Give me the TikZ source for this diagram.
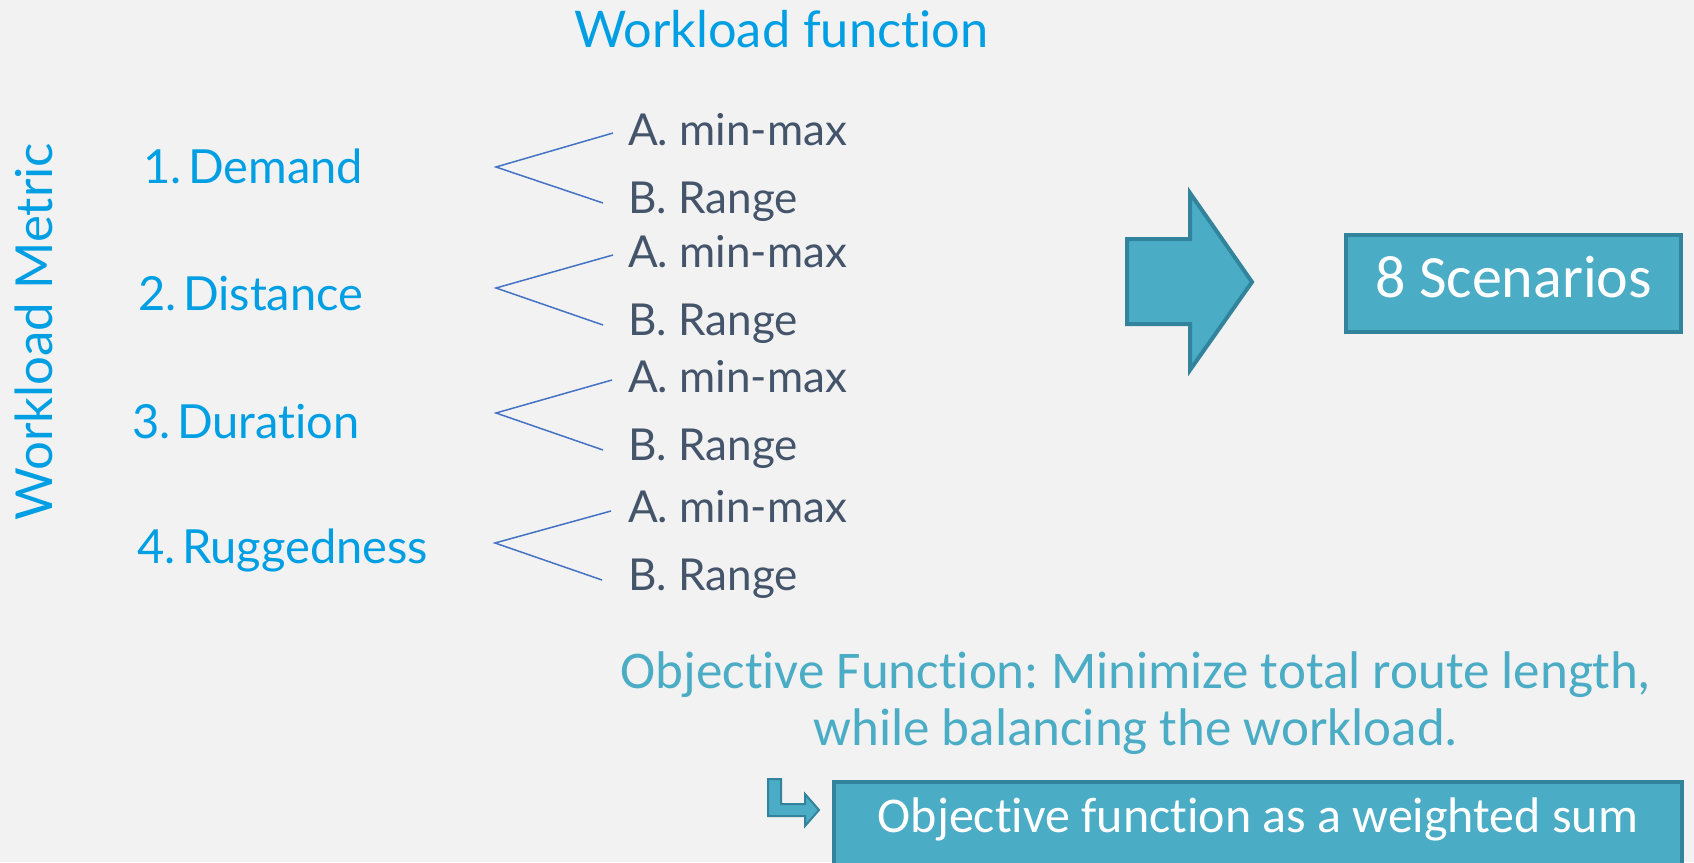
\documentclass[tikz,border=0pt]{standalone}
\usepackage{fontspec}
\newfontfamily\gillfont[Ligatures={NoCommon}]{Lato}
\newfontfamily\califont[Ligatures={NoCommon}]{Carlito}
\definecolor{bg}{HTML}{F2F2F2}
\definecolor{metricblue}{HTML}{009FE3}
\definecolor{slate}{HTML}{44546A}
\definecolor{brline}{HTML}{4472C4}
\definecolor{tealfill}{HTML}{4BACC6}
\definecolor{darkteal}{HTML}{31849B}
\frenchspacing
\begin{document}
\begin{tikzpicture}[x=1pt,y=-1pt,
  metric/.style={anchor=base west, inner sep=0pt, text=metricblue, font=\gillfont\fontsize{47}{56}\selectfont},
  option/.style={anchor=base west, inner sep=0pt, text=slate, font=\gillfont\fontsize{44}{53}\selectfont},
  brace/.style={draw=brline, line width=1.5pt},
  tealbox/.style={draw=darkteal, fill=tealfill, line width=4pt, inner sep=0pt},
  tealshape/.style={draw=darkteal, fill=tealfill, line join=miter},
]
\useasboundingbox (0,0) rectangle (1694,862);
\fill[bg] (0,0) rectangle (1694,862);
\clip (0,0) rectangle (1694,862);

% titles
\node[metric, font=\gillfont\fontsize{50.5}{60}\selectfont] (wf) at (574,47) {Workload function};
\node[metric, font=\gillfont\fontsize{51}{60}\selectfont, rotate=90] (wm) at (52,521) {Workload Metric};

% metrics
\node[metric] (m1) at (143,183) {1.\kern0.14em Demand};
\node[metric] (m2) at (138,310) {2.\kern0.14em Distance};
\node[metric] (m3) at (132,438) {3.\kern0.14em Duration};
\node[metric] (m4) at (137,563) {4.\kern0.14em Ruggedness};

% options
\node[option] (a1) at (628,145) {A. min-max};
\node[option] (b1) at (628,213) {B. Range};
\node[option] (a2) at (628,267) {A. min-max};
\node[option] (b2) at (628,335) {B. Range};
\node[option] (a3) at (628,392) {A. min-max};
\node[option] (b3) at (628,460) {B. Range};
\node[option] (a4) at (628,522) {A. min-max};
\node[option] (b4) at (628,590) {B. Range};

% bracket coordinates
\coordinate (p1) at (496,167); \coordinate (t1) at (613,133); \coordinate (u1) at (603,203);
\coordinate (p2) at (496,288); \coordinate (t2) at (613,255); \coordinate (u2) at (603,325);
\coordinate (p3) at (496,413); \coordinate (t3) at (612,380); \coordinate (u3) at (603,450);
\coordinate (p4) at (495,543); \coordinate (t4) at (611,511); \coordinate (u4) at (602,580);
\draw[brace] (t1) -- (p1) -- (u1);
\draw[brace] (t2) -- (p2) -- (u2);
\draw[brace] (t3) -- (p3) -- (u3);
\draw[brace] (t4) -- (p4) -- (u4);

% big arrow
\draw[tealshape, line width=4pt] (1127,239) -- (1190,239) -- (1190,193) -- (1252,282) -- (1190,370) -- (1190,324) -- (1127,324) -- cycle;

% scenarios box
\node[tealbox, minimum width=335pt, minimum height=97pt, text=white, text height=27pt, text depth=0pt,
      font=\califont\fontsize{60}{72}\selectfont] (scen) at (1513.5,283.5) {8 Scenarios};

% objective text
\node[anchor=base, inner sep=0pt, text=tealfill, align=center,
      font=\califont\fontsize{53}{57}\selectfont] (objf) at (1136,745)
      {Objective Function: Minimize total route length,\\while balancing the workload.};

% small bent arrow
\draw[tealshape, line width=2pt] (768,779) -- (781,779) -- (781,804) -- (805,804) -- (805,794)
   -- (819,810) -- (805,826) -- (805,816) -- (768,816) -- cycle;

% weighted sum box
\node[tealbox, minimum width=848pt, minimum height=110pt, anchor=north] (sumbox) at (1258,780) {};
\node[anchor=base, inner sep=0pt, text=white, font=\califont\fontsize{50}{60}\selectfont] (sumtext) at (1258,832)
      {Objective function as a weighted sum};
\end{tikzpicture}
\end{document}
